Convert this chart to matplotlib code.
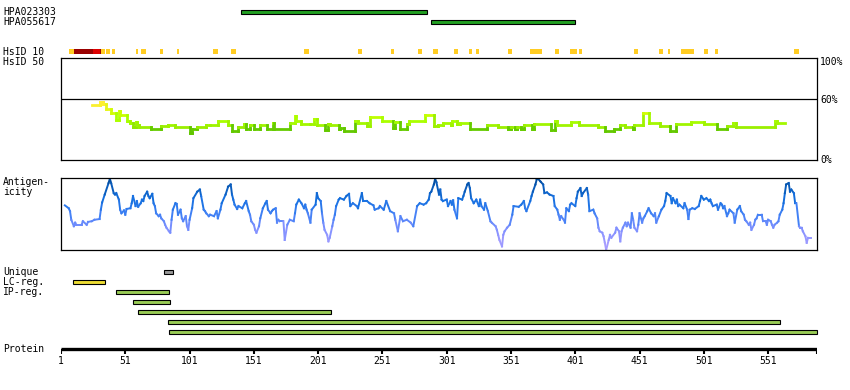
import matplotlib
matplotlib.use("Agg")
import matplotlib.pyplot as plt
from matplotlib.patches import Rectangle
from matplotlib.collections import LineCollection
from matplotlib.colors import LinearSegmentedColormap, Normalize
import numpy as np

W, H = 850, 390
LENGTH = 588
FONT = "DejaVu Sans Mono"
FS = 7

# antibodies: name, first residue, last residue
ab_names = ["HPA023303", "HPA055617"]
ab_start = [141, 289]
ab_end = [285, 400]

# HsID 10 track segments (first, last, kind)
hs_start = [7, 11, 26, 31, 32, 33, 36, 41, 59, 63, 78, 91, 119, 133, 190, 232, 258, 279,
            290, 307, 318, 324, 349, 366, 371, 385, 397, 404, 447, 466, 473, 483, 486,
            501, 510, 571]
hs_end = [10, 25, 30, 31, 32, 34, 38, 42, 60, 66, 79, 92, 122, 136, 193, 234, 259, 281,
          293, 309, 320, 325, 351, 370, 374, 387, 401, 405, 449, 468, 474, 485, 492,
          503, 511, 574]
hs_kind = ["y", "d", "r", "d"] + ["y"] * 32

# identity (HsID 50) step line: residue where step begins, percent
ident_start = [25, 31, 34, 36, 40, 44, 46, 47, 52, 55, 57, 59, 60, 62, 71, 79, 84, 90,
               101, 103, 107, 114, 117, 123, 131, 134, 139, 143, 145, 148, 151, 156, 161,
               166, 167, 179, 183, 184, 188, 195, 198, 200, 206, 209, 210, 217, 218, 221,
               230, 232, 239, 241, 251, 259, 261, 265, 270, 272, 284, 291, 294, 298, 304,
               305, 309, 311, 319, 332, 341, 349, 351, 354, 356, 359, 361, 367, 369, 382,
               385, 387, 398, 404, 419, 424, 431, 436, 440, 446, 447, 454, 458, 467, 475,
               479, 491, 501, 511, 519, 524, 526, 556, 558]
ident_pct = [54, 57, 54.5, 50, 46, 39, 48, 44, 38, 36, 32, 37, 34, 32.5, 30, 33, 34.5, 32.5,
             26, 30, 32.5, 34.5, 34, 38, 34.5, 28.5, 32.5, 35.5, 30, 34.5, 30, 34.5, 30,
             36.5, 30, 36.5, 43, 38.5, 35.5, 35, 40.5, 34.5, 29, 35, 34, 30, 31, 28,
             38.5, 36, 33.5, 42.5, 38.5, 31, 37, 30, 35, 38.5, 44, 33, 34.5, 36.5, 34.5,
             38.5, 35, 36.5, 30, 34.5, 32.5, 30, 32.5, 30, 32.5, 30, 34.5, 30, 35, 29,
             38.5, 34.5, 37.5, 34, 32.5, 28, 30, 34.5, 32.5, 30, 34.5, 46, 36, 33.5, 28,
             35, 37.5, 35, 30, 33.5, 36.5, 32.5, 38.5, 36]
ident_end = 564

# antigenicity profile (residue, relative score 0-100)
ag_res = [4, 7, 8, 9, 11, 12, 13, 17, 18, 21, 22, 25, 27, 31, 32, 33, 35, 38, 39, 40,
          42, 43, 44, 46, 47, 48, 50, 51, 52, 55, 56, 57, 59, 60, 61, 63, 64, 65, 66, 68,
          69, 70, 72, 73, 74, 75, 77, 78, 79, 81, 82, 83, 85, 86, 87, 88, 90, 91, 92, 94,
          95, 96, 98, 99, 100, 101, 103, 104, 107, 109, 110, 112, 113, 114, 116, 117, 120,
          122, 123, 125, 126, 129, 131, 133, 134, 135, 136, 138, 139, 142, 144, 145, 147,
          148, 149, 151, 152, 153, 155, 156, 158, 160, 161, 162, 164, 165, 166, 168, 169,
          170, 171, 174, 175, 177, 179, 182, 183, 184, 186, 188, 190, 191, 192, 193, 195,
          196, 199, 200, 201, 203, 204, 205, 206, 208, 209, 210, 212, 213, 214, 215, 217,
          218, 221, 223, 225, 226, 228, 231, 232, 235, 236, 239, 241, 244, 245, 248, 249,
          252, 254, 257, 260, 261, 263, 265, 267, 270, 273, 275, 278, 280, 283, 285,
          287, 288, 289, 291, 292, 293, 295, 296, 297, 298, 301, 302, 304, 305, 306, 307,
          309, 310, 313, 314, 315, 317, 318, 319, 320, 322, 324, 326, 327, 328, 330, 331,
          333, 335, 336, 339, 340, 341, 342, 344, 345, 346, 348, 350, 352, 353, 357, 359,
          361, 362, 363, 366, 367, 368, 370, 371, 372, 374, 376, 377, 379, 381, 384, 385,
          387, 388, 389, 390, 392, 393, 394, 396, 397, 398, 401, 402, 403, 405, 406, 407,
          410, 411, 412, 415, 416, 418, 419, 420, 422, 423, 424, 425, 427, 428, 429, 432,
          433, 435, 436, 437, 438, 440, 441, 442, 444, 445, 446, 447, 449, 450, 451, 453,
          454, 455, 457, 458, 460, 462, 463, 464, 466, 468, 470, 471, 472, 475, 476, 477,
          479, 480, 481, 482, 485, 486, 488, 489, 490, 492, 494, 497, 498, 499, 501, 503,
          505, 506, 507, 508, 511, 512, 514, 515, 516, 517, 519, 520, 521, 524, 525, 527,
          529, 530, 532, 533, 534, 536, 537, 538, 540, 541, 542, 543, 546, 547, 549, 550,
          551, 553, 554, 555, 556, 558, 559, 560, 562, 563, 564, 565, 567, 568, 569, 571,
          572, 573, 575, 576, 577, 578, 580, 581, 582, 584]
ag_val = [62, 58, 54, 42, 33, 38, 35, 35, 40, 35, 39, 40, 42, 43, 56, 66, 77, 93, 99, 93,
          79, 77, 79, 70, 56, 51, 55, 49, 57, 58, 65, 75, 61, 68, 60, 65, 70, 68, 75, 81,
          75, 72, 78, 65, 61, 51, 47, 49, 44, 40, 35, 31, 26, 24, 42, 56, 65, 64, 49, 56,
          44, 40, 47, 33, 28, 42, 58, 72, 81, 84, 75, 56, 54, 51, 47, 49, 47,
          54, 44, 56, 65, 77, 88, 91, 77, 70, 63, 57, 61, 58, 65, 68, 54,
          49, 40, 35, 28, 24, 33, 44, 58, 65, 68, 56, 51, 54, 56, 58, 38,
          42, 40, 40, 14, 35, 42, 40, 51, 63, 70, 65, 58, 63, 56, 51, 38,
          56, 63, 79, 72, 68, 51, 38, 28, 21, 12, 17, 33, 42, 49, 61, 70,
          72, 70, 75, 78, 61, 65, 61, 58, 79, 68, 68, 65, 62, 56, 58, 61,
          56, 68, 54, 51, 42, 26, 47, 40, 42, 38, 33, 61, 65, 63, 65,
          70, 79, 81, 91, 99, 94, 77, 84, 70, 68, 70, 61, 68, 63, 69, 56,
          44, 72, 70, 75, 81, 91, 93, 86, 72, 65, 70, 61, 70, 61, 56, 65,
          54, 40, 38, 33, 28, 21, 14, 5, 21, 26, 31, 35, 49, 61, 60, 63,
          68, 58, 54, 68, 75, 81, 91, 98, 99, 95, 91, 79, 80, 77, 75, 61,
          56, 49, 42, 47, 42, 38, 58, 54, 63, 65, 61, 72, 81, 86, 75, 79,
          86, 77, 54, 56, 51, 44, 31, 26, 24, 19, 10, 0, 14, 21, 17, 24,
          31, 26, 12, 26, 31, 38, 33, 38, 31, 51, 42, 31, 26, 35, 51, 38,
          44, 47, 54, 58, 51, 47, 51, 38, 47, 56, 61, 68, 79, 75, 65, 72,
          65, 70, 61, 63, 58, 65, 56, 43, 56, 58, 57, 61, 68, 75, 70, 72,
          68, 70, 65, 61, 63, 56, 65, 63, 58, 61, 47, 51, 56, 51, 38, 56,
          61, 54, 49, 42, 40, 35, 38, 28, 35, 42, 44, 49, 49, 40, 40, 35,
          42, 40, 35, 31, 35, 38, 40, 49, 56, 65, 79, 91, 93, 81, 84, 79,
          65, 65, 33, 31, 31, 26, 19, 10, 17, 17]

# peptide tracks (first, last)
unique_reg = [(81, 87)]
lc_reg = [(10, 34)]
ip_reg = [(44, 84), (57, 85), (61, 210), (84, 559), (85, 588)]

tick_res = [1, 51, 101, 151, 201, 251, 301, 351, 401, 451, 501, 551]


def px_box(x0, y0, x1, y1):
    return [x0 / W, 1 - y1 / H, (x1 - x0) / W, (y1 - y0) / H]


def label(x, y, s, **kw):
    fig.text(x / W, 1 - y / H, s, family=FONT, fontsize=FS, va="center", **kw)


def step_segments(xs, ys, x_end):
    # horizontal run for each value plus the vertical joins between them
    segs, lev = [], []
    ends = list(xs[1:]) + [x_end]
    for i in range(len(xs)):
        segs.append([(xs[i], ys[i]), (ends[i], ys[i])])
        lev.append(ys[i])
        if i + 1 < len(xs):
            segs.append([(ends[i], ys[i]), (ends[i], ys[i + 1])])
            lev.append(min(ys[i], ys[i + 1]))
    return segs, np.array(lev)


fig = plt.figure(figsize=(W / 100, H / 100), dpi=100)

X0, X1 = 61, 817

# --- tracks axes (residue x, pixel-row y)
ax_t = fig.add_axes(px_box(X0, 0, X1, H))
ax_t.set_xlim(1, LENGTH + 1)
ax_t.set_ylim(H, 0)
ax_t.axis("off")


def bar(ax, a, b, row, color, h=4.4):
    ax.add_patch(Rectangle((a, row - h / 2), b + 1 - a, h, facecolor=color,
                           edgecolor="black", lw=0.8, clip_on=False))


for i, name in enumerate(ab_names):
    row = 12 + 10 * i
    bar(ax_t, ab_start[i], ab_end[i], row, "#22a022")
    label(3, row, name)

hs_colors = {"y": "#ffcc22", "d": "#990000", "r": "#dd0000"}
for a, b, k in zip(hs_start, hs_end, hs_kind):
    ax_t.add_patch(Rectangle((a, 49), b + 1 - a, 5, facecolor=hs_colors[k], lw=0))
label(3, 52, "HsID 10")
label(3, 62, "HsID 50")

for a, b in unique_reg:
    bar(ax_t, a, b, 272, "#999999")
for a, b in lc_reg:
    bar(ax_t, a, b, 282, "#eedd33")
for i, (a, b) in enumerate(ip_reg):
    bar(ax_t, a, b, 292 + 10 * i, "#99cc55")
label(3, 272, "Unique")
label(3, 282, "LC-reg.")
label(3, 292, "IP-reg.")

ax_t.plot([1, LENGTH + 1], [349, 349], color="black", lw=2.4, solid_capstyle="butt")
ax_t.vlines(tick_res + [LENGTH + 1], 349, 354, color="black", lw=1.5)
for r in tick_res:
    ax_t.text(r, 361, str(r), family=FONT, fontsize=FS, ha="center", va="center")
label(3, 349, "Protein")

# --- identity panel
ax_i = fig.add_axes(px_box(X0, 58, X1, 160))
ax_i.set_xlim(1, LENGTH + 1)
ax_i.set_ylim(0, 100)
ax_i.set_xticks([])
ax_i.set_yticks([])
for s in ax_i.spines.values():
    s.set_linewidth(0.9)
ax_i.axhline(60, color="black", lw=0.9)

id_cmap = LinearSegmentedColormap.from_list(
    "ident", [(0.0, "#5cbf00"), (0.27, "#66cc00"), (0.31, "#99ee00"),
              (0.5, "#aaff00"), (0.7, "#ccff00"), (1.0, "#ffee33")])
id_norm = Normalize(22, 55)
segs, lev = step_segments(ident_start, ident_pct, ident_end)
ax_i.add_collection(LineCollection(segs, colors=id_cmap(id_norm(lev)),
                                   linewidths=2.0, capstyle="projecting"))

for y, s in [(62, "100%"), (100, "60%"), (160, "0%")]:
    label(820, y, s)

# --- antigenicity panel
ax_a = fig.add_axes(px_box(X0, 178, X1, 250))
ax_a.set_xlim(1, LENGTH + 1)
ax_a.set_ylim(0, 100)
ax_a.set_xticks([])
ax_a.set_yticks([])
for s in ax_a.spines.values():
    s.set_linewidth(0.9)

ag_cmap = LinearSegmentedColormap.from_list(
    "antig", [(0.0, "#b0a0ff"), (0.3, "#7f90ff"), (0.5, "#3f80f5"),
              (0.7, "#1570e0"), (1.0, "#004a9a")])
pts = np.column_stack([ag_res, ag_val])
ag_segs = np.stack([pts[:-1], pts[1:]], axis=1)
mid = (np.array(ag_val[:-1]) + np.array(ag_val[1:])) / 2
ax_a.add_collection(LineCollection(ag_segs, colors=ag_cmap(mid / 100),
                                   linewidths=1.4, capstyle="projecting"))
label(3, 182, "Antigen-")
label(3, 192, "icity")

fig.savefig("out.png", dpi=100)
